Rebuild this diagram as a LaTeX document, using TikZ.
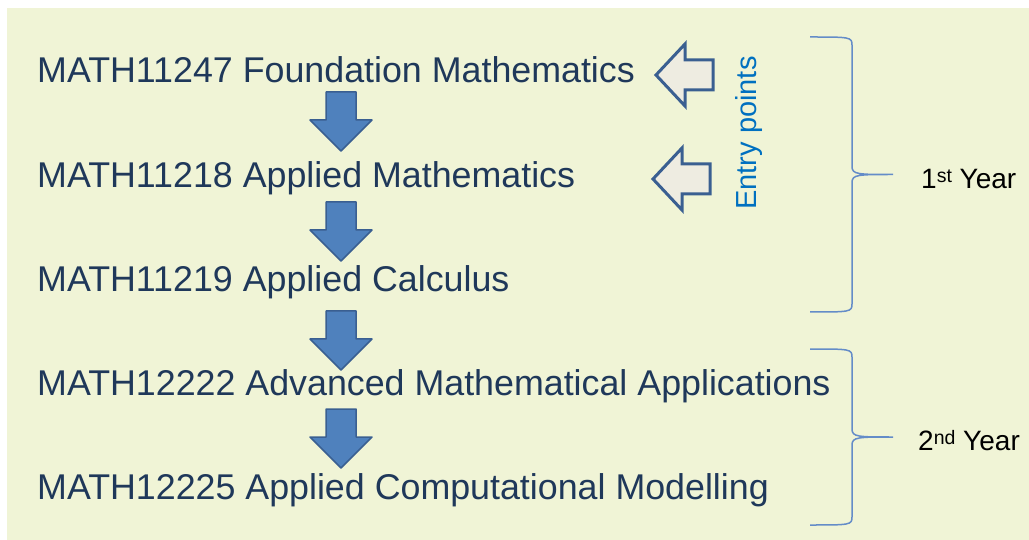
\documentclass[tikz,border=0pt]{standalone}
\usepackage{fontspec}
\setmainfont{Liberation Sans}
\usepackage{tikz}
\usetikzlibrary{positioning,calc}
\definecolor{PanelGreen}{RGB}{240,244,214}
\definecolor{CourseInk}{RGB}{31,56,90}
\definecolor{FlowBlue}{RGB}{79,129,189}
\definecolor{FlowEdge}{RGB}{58,95,145}
\definecolor{EntryFill}{RGB}{238,236,225}
\definecolor{EntryBlue}{RGB}{0,112,192}
\definecolor{BraceBlue}{RGB}{100,140,200}
\newcommand{\yearsup}[1]{\raisebox{6pt}{\fontsize{19.5}{19}\selectfont #1}}
\tikzset{
  course/.style={anchor=base west,inner sep=0pt,text=CourseInk,
    font=\fontsize{35.8}{40}\selectfont},
  yearlabel/.style={anchor=base west,inner sep=0pt,text=black,
    font=\fontsize{28}{30}\selectfont},
  flow/.style={fill=FlowBlue,draw=FlowEdge,line width=1.5pt,line join=round},
  entry/.style={fill=EntryFill,draw=FlowEdge,line width=3pt,line join=miter},
  brace/.style={draw=BraceBlue,line width=1.5pt},
}

\begin{document}
\begin{tikzpicture}[x=1pt,y=-1pt]
\useasboundingbox (0,0) rectangle (1029,540);
\fill[PanelGreen] (7,8) rectangle (1029,540);
\node[course] (m11247) at (37,83) {MATH11247 Foundation Mathematics};
\node[course] (m11218) at (37,188) {MATH11218 Applied Mathematics};
\node[course] (m11219) at (37,292) {MATH11219 Applied Calculus};
\node[course] (m12222) at (37,395) {MATH12222 Advanced Mathematical Applications};
\node[course] (m12225) at (37,499) {MATH12225 Applied Computational Modelling};
% down arrows between the courses
\coordinate (d1) at (341,92);
\coordinate (d2) at (341,202);
\coordinate (d3) at (341,311);
\coordinate (d4) at (341,409);
\foreach \d in {d1,d2,d3,d4}{
  \begin{scope}[shift={(\d)}]
    \draw[flow] (-15,0) -- (15,0) -- (15,28) -- (31,28) -- (0,59)
      -- (-31,28) -- (-15,28) -- cycle;
  \end{scope}
}
% entry arrows
\coordinate (e1) at (656,75);
\coordinate (e2) at (653,179);
\foreach \e in {e1,e2}{
  \begin{scope}[shift={(\e)}]
    \draw[entry] (0,0) -- (29,-31) -- (29,-15) -- (57,-15) -- (57,15)
      -- (29,15) -- (29,31) -- cycle;
  \end{scope}
}
\node[rotate=90,inner sep=0pt,text=EntryBlue,font=\fontsize{29}{32}\selectfont]
  (entrytxt) at (749,133) {Entry points};
% year braces
\foreach \top/\bot in {37/312,349/525}{
  \pgfmathsetmacro{\mid}{(\top+\bot)/2}
  \draw[brace] (810,\top) .. controls (850,\top) and (852,\top) .. (852,\top+8)
    -- (852,\mid-8) .. controls (852,\mid) and (858,\mid) .. (893,\mid)
    .. controls (858,\mid) and (852,\mid) .. (852,\mid+8)
    -- (852,\bot-8) .. controls (852,\bot) and (850,\bot) .. (810,\bot);
}
\node[yearlabel] (year1) at (921,189) {1\yearsup{st} Year};
\node[yearlabel] (year2) at (918,450) {2\yearsup{nd} Year};
\end{tikzpicture}
\end{document}
